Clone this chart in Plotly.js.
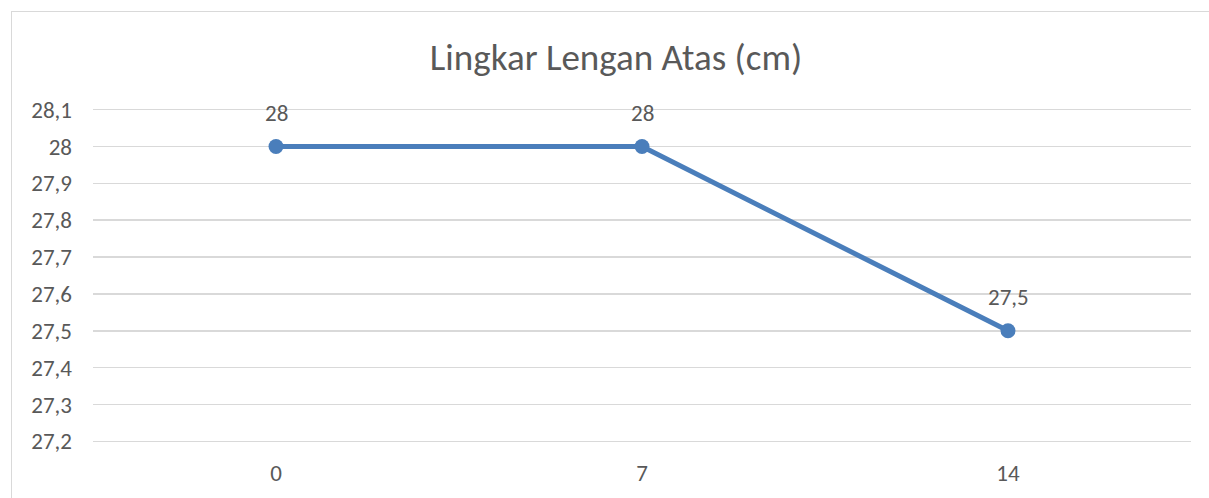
<!DOCTYPE html>
<html>
<head>
<meta charset="utf-8">
<script src="https://cdn.plot.ly/plotly-3.0.1.min.js"></script>
<style>
html,body{margin:0;padding:0;background:#fff;overflow:hidden;}
#frame{position:absolute;left:11px;top:11px;width:1220px;height:520px;border:1px solid #d9d9d9;box-sizing:border-box;pointer-events:none;z-index:5;}
#chart{position:absolute;left:0;top:0;width:1209px;height:498px;}
</style>
</head>
<body>
<div id="chart"></div>
<div id="frame"></div>
<script>
const days = ["0", "7", "14"];
const lilaValues = [28, 28, 27.5];
const labelTexts = ["28", "28", "27,5"];
const chartTitle = "Lingkar Lengan Atas (cm)";

const font = "Carlito, 'Open Sans', 'Liberation Sans', sans-serif";
const txtColor = "#595959";

const trace = {
  type: "scatter",
  mode: "lines+markers",
  x: days,
  y: lilaValues,
  line: {color: "#4a7ebb", width: 5},
  marker: {color: "#4a7ebb", size: 15},
  hoverinfo: "skip",
  cliponaxis: false
};

const annotations = days.map((d, i) => ({
  x: i, y: lilaValues[i], xref: "x", yref: "y",
  text: labelTexts[i], showarrow: false, yshift: 34,
  font: {family: font, size: 23, color: txtColor}
}));

const layout = {
  width: 1209, height: 498,
  margin: {l: 93, r: 18, t: 106, b: 53},
  paper_bgcolor: "#fff", plot_bgcolor: "#fff",
  separators: ",.",
  showlegend: false,
  title: {
    text: chartTitle,
    font: {family: font, size: 37, color: txtColor},
    xref: "container", yref: "container",
    x: 616/1209, xanchor: "center",
    y: 1 - 57/498, yanchor: "middle"
  },
  xaxis: {
    type: "category",
    range: [-0.5, 2.5],
    showgrid: false, zeroline: false, showline: false,
    ticks: "",
    ticklabelstandoff: 12,
    tickfont: {family: font, size: 23, color: txtColor}
  },
  yaxis: {
    range: [27.19, 28.11],
    dtick: 0.1, tick0: 27.2,
    showgrid: true, gridcolor: "#d9d9d9", gridwidth: 1.5,
    zeroline: false, showline: false,
    ticks: "",
    ticklabelstandoff: 20,
    tickfont: {family: font, size: 23, color: txtColor}
  },
  annotations: annotations
};

Plotly.newPlot("chart", [trace], layout, {displayModeBar: false, staticPlot: true});
</script>
</body>
</html>
